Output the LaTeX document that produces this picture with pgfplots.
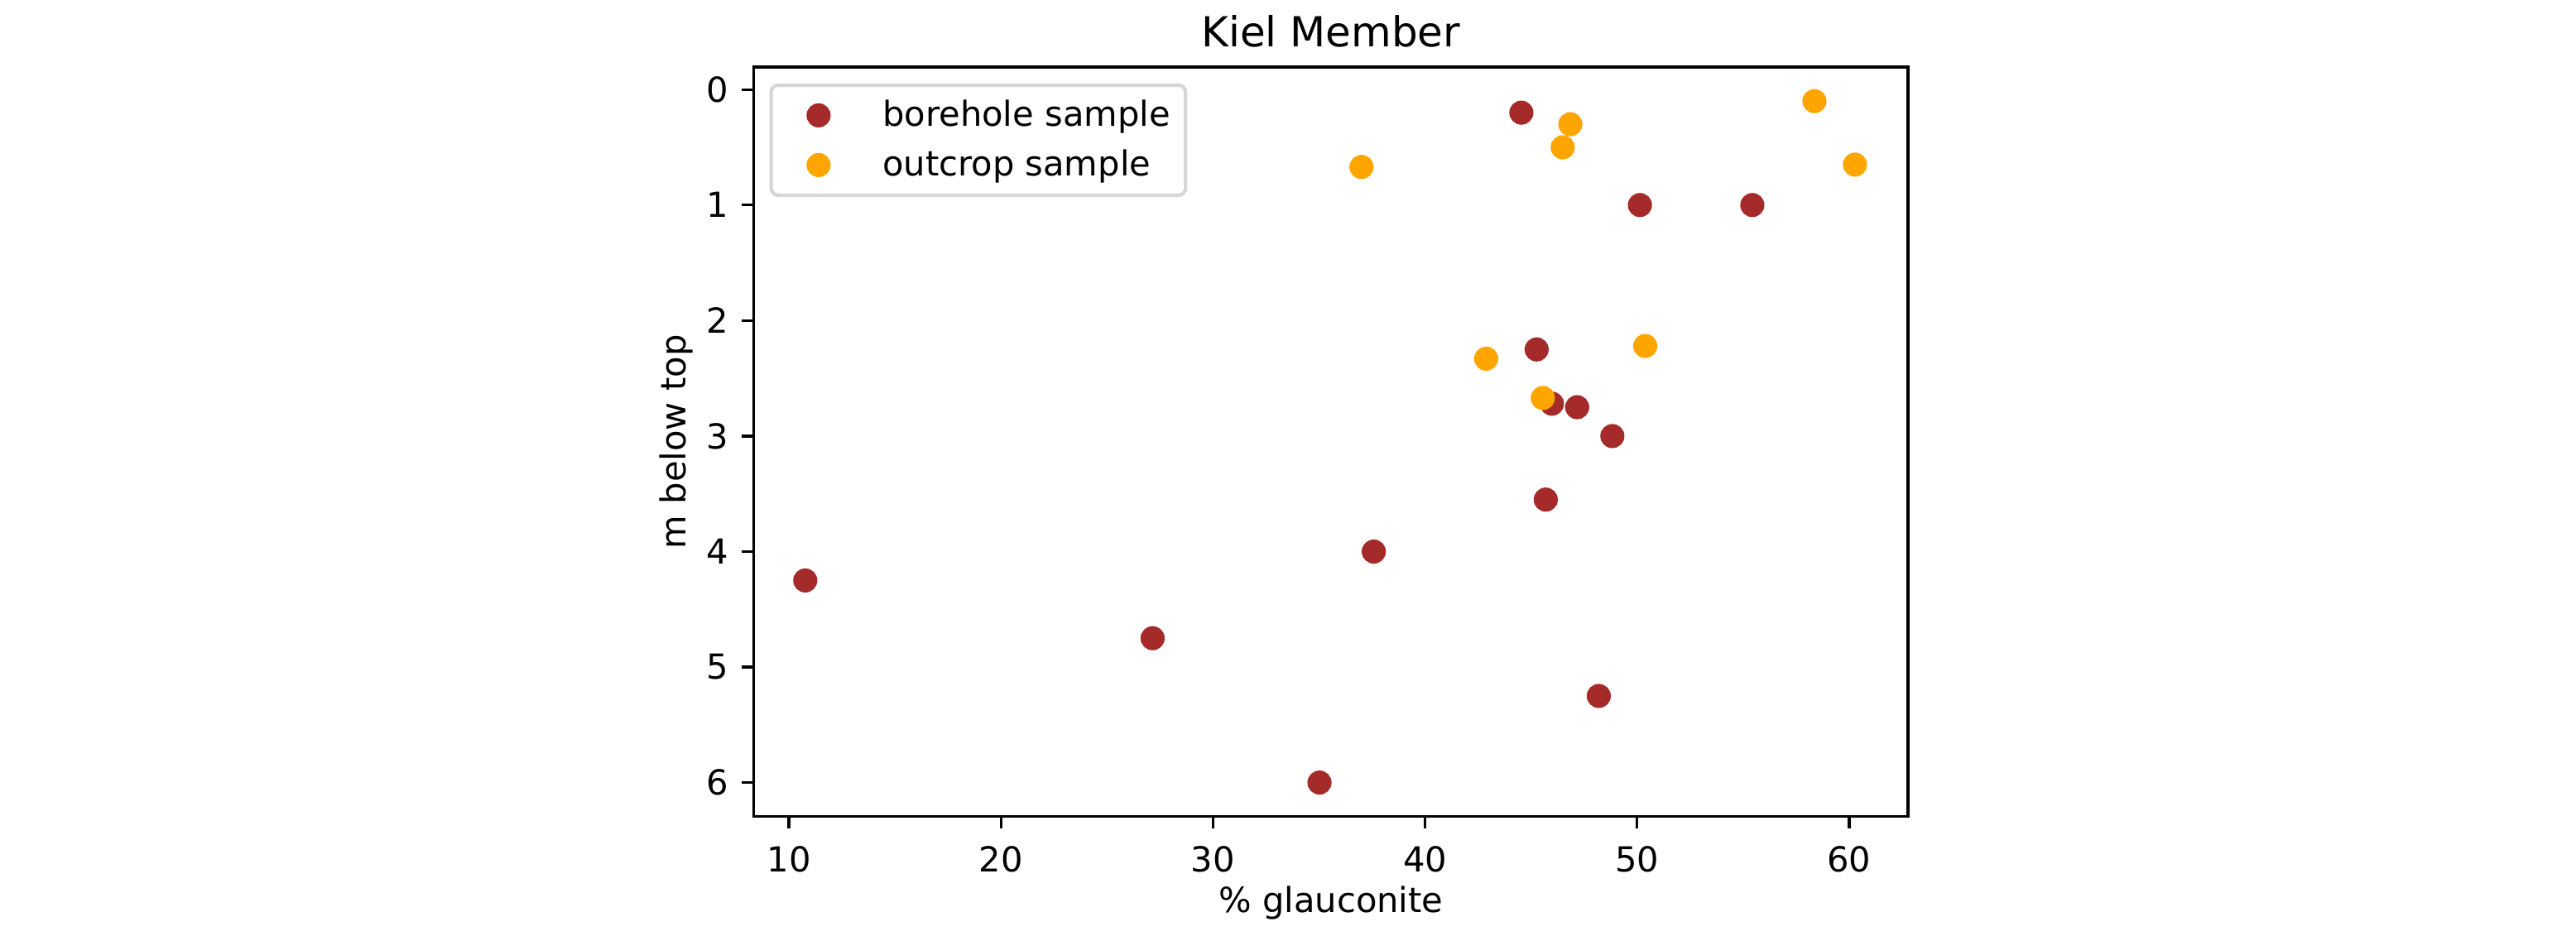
\documentclass[border=0pt]{standalone}
\usepackage{fontspec}
\setmainfont{DejaVu Sans}
\usepackage{pgfplots}
\pgfplotsset{compat=1.18}
\definecolor{brownc}{HTML}{A52A2A}
\definecolor{orangec}{HTML}{FFA500}
\definecolor{legframe}{HTML}{D6D6D6}
\begin{document}
\begin{tikzpicture}
\path[use as bounding box] (-218.6pt,-34.6pt) rectangle (528.3pt,236.8pt);
\begin{axis}[
  at={(0pt,0pt)}, anchor=south west,
  scale only axis, width=334.6pt, height=217.4pt,
  xmin=8.35, xmax=62.77, ymin=-0.196, ymax=6.294, y dir=reverse,
  xtick={10,20,30,40,50,60}, ytick={0,1,2,3,4,5,6},
  tick align=outside, xtick pos=left, ytick pos=left,
  major tick length=3.5pt,
  every tick/.style={black, line width=0.8pt},
  axis line style={line width=0.8pt},
  /pgf/number format/assume math mode=true,
  tick label style={font=\normalsize, inner sep=0pt},
  xticklabel shift=4.9pt, yticklabel shift=3.6pt,
  xlabel={\% glauconite}, ylabel={m below top}, title={Kiel Member},
  every axis title shift=0pt,
  xlabel style={at={(axis description cs:0.5,0)}, anchor=base, yshift=-27.9pt, inner sep=0pt},
  ylabel style={at={(axis description cs:-0.0593,0.5)}, anchor=base, inner sep=0pt},
  title style={at={(axis description cs:0.5,1)}, anchor=base, yshift=5.83pt, font=\large, inner sep=0pt},
  legend style={at={(axis description cs:0.01494,0.9756)}, anchor=north west, draw=legframe, line width=1pt, rounded corners=2pt, outer sep=0pt, inner xsep=0pt, inner ysep=1.55pt, nodes={inner sep=0pt, draw=none}, font=\normalsize, row sep=0pt, column sep=0pt},
  legend cell align=left,
  legend image code/.code={\path[draw=none,fill=none] (-13.75pt,-7.2pt) rectangle (18.55pt,7.2pt); \draw[sharp corners,#1] plot coordinates {(0pt,0pt)};},
]
\addplot[only marks, mark=*, mark size=3.3pt, mark options={fill=brownc, draw=brownc, line width=0.4pt}] coordinates {
(44.54,0.2) (50.13,1.0) (55.43,1.0) (45.26,2.25) (45.98,2.72) (47.17,2.75) (48.83,3.0)
(45.69,3.55) (37.58,4.0) (10.77,4.25) (27.15,4.75) (48.19,5.25) (35.02,6.0)
};
\addlegendentry{borehole sample\hspace*{4.4pt}}
\addplot[only marks, mark=*, mark size=3.3pt, mark options={fill=orangec, draw=orangec, line width=0.4pt}] coordinates {
(58.36,0.1) (46.85,0.3) (46.49,0.5) (37.0,0.67) (60.27,0.65) (42.88,2.33) (50.38,2.22) (45.55,2.67)
};
\addlegendentry{outcrop sample}
\end{axis}
\end{tikzpicture}
\end{document}
